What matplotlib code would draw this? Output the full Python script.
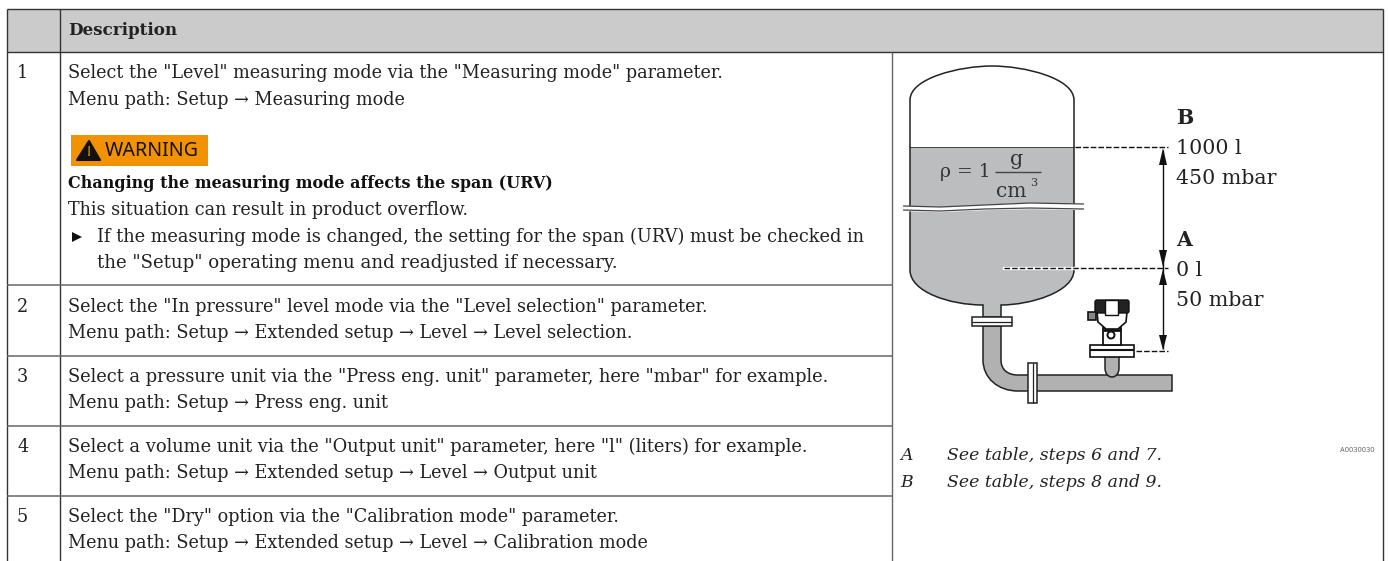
import matplotlib
matplotlib.use('Agg')
import matplotlib.pyplot as plt
from matplotlib.patches import Rectangle, Polygon, PathPatch, Circle, FancyBboxPatch
from matplotlib.path import Path

header = 'Description'
row_numbers = ['1', '2', '3', '4', '5']
row_number_y = [73, 307, 377, 447, 517]
row_lines = [
    (73, 'Select the "Level" measuring mode via the "Measuring mode" parameter.'),
    (100, 'Menu path: Setup \u2192 Measuring mode'),
    (210, 'This situation can result in product overflow.'),
    (307, 'Select the "In pressure" level mode via the "Level selection" parameter.'),
    (333, 'Menu path: Setup \u2192 Extended setup \u2192 Level \u2192 Level selection.'),
    (377, 'Select a pressure unit via the "Press eng. unit" parameter, here "mbar" for example.'),
    (403, 'Menu path: Setup \u2192 Press eng. unit'),
    (447, 'Select a volume unit via the "Output unit" parameter, here "l" (liters) for example.'),
    (473, 'Menu path: Setup \u2192 Extended setup \u2192 Level \u2192 Output unit'),
    (517, 'Select the "Dry" option via the "Calibration mode" parameter.'),
    (543, 'Menu path: Setup \u2192 Extended setup \u2192 Level \u2192 Calibration mode'),
]
warning_title = 'Changing the measuring mode affects the span (URV)'
bullet_lines = ['If the measuring mode is changed, the setting for the span (URV) must be checked in',
                'the "Setup" operating menu and readjusted if necessary.']
callouts = [(118, 'B', True), (148, '1000 l', False), (178, '450 mbar', False),
            (240, 'A', True), (270, '0 l', False), (300, '50 mbar', False)]
legend_rows = [(455, 'A', 'See table, steps 6 and 7.'), (482, 'B', 'See table, steps 8 and 9.')]
figure_code = 'A0030030'

line_col = '#333333'
serif = 'DejaVu Serif'
fs = 12.7

fig = plt.figure(figsize=(13.89, 5.61), dpi=100)
ax = fig.add_axes([0, 0, 1, 1])
ax.set_xlim(0, 1389)
ax.set_ylim(561, 0)
ax.axis('off')


def line(xs, ys, lw=1.0, col=line_col, z=3, **kw):
    ax.plot(xs, ys, color=col, lw=lw, zorder=z, solid_capstyle='butt', **kw)


def txt(x, y, s, size=fs, **kw):
    kw.setdefault('family', serif)
    kw.setdefault('color', '#222222')
    ax.text(x, y, s, fontsize=size, va='center', ha=kw.pop('ha', 'left'), **kw)


def shape(verts, codes, fc, z=2, lw=1.1, ec='#222222'):
    ax.add_patch(PathPatch(Path(verts, codes), fc=fc, ec=ec, lw=lw, zorder=z))


M, L, C, Z = Path.MOVETO, Path.LINETO, Path.CURVE4, Path.CLOSEPOLY

# table
ax.add_patch(Rectangle((7, 9), 1376, 43, fc='#cbcbcb', ec='none', zorder=1))
line([7, 1383], [9, 9])
line([7, 1383], [52, 52])
line([7, 7], [9, 561])
line([60, 60], [9, 561])
line([892, 892], [52, 561], col='#666666')
line([1383, 1383], [9, 561])
for y in [285, 356, 426, 496]:
    line([7, 892], [y, y], lw=1.1, col='#666666')

txt(68, 30, header, size=12.1, weight='bold')
for n, y in zip(row_numbers, row_number_y):
    txt(17, y, n)
for y, s in row_lines:
    # the lines with long quoted words run a bit wider in the original
    txt(68, y, s, size=12.9 if y in (377, 447) else fs)

# warning box
ax.add_patch(Rectangle((71, 135), 137, 31, fc='#f39200', ec='none', zorder=2))
ax.add_patch(Polygon([(77, 160), (100, 160), (89, 141)], fc='#111111', ec='#111111', lw=1.5, joinstyle='round', zorder=3))
txt(88.5, 152, '!', size=11, color='#f39200', weight='bold', ha='center', family='Noto Sans', zorder=4)
txt(105, 151, 'WARNING', size=14.2, family='Noto Sans', color='#111111')
txt(68, 183, warning_title, size=11.5, weight='bold', color='#111111')
ax.add_patch(Polygon([(72, 232), (72, 242), (82, 237)], fc='#111111', ec='none', zorder=3))
for y, s, size in zip([237, 263], bullet_lines, [12.8, 13.1]):
    txt(97, y, s, size=size)

# tank, liquid part
shape([(910, 147), (1074, 147), (1074, 270), (1074, 292), (1030, 305), (1001, 305),
       (1001, 317), (983, 317), (983, 305), (950, 305), (910, 292), (910, 270), (910, 147), (910, 147)],
      [M, L, L, C, C, C, L, L, L, C, C, C, L, Z], '#bcbdbf')
# tank, dome
shape([(910, 147), (910, 100), (910, 78), (960, 66), (992, 66), (1024, 66), (1074, 78), (1074, 100), (1074, 147)],
      [M, L, C, C, C, C, C, C, L], 'white')
# break in the wall
brk_x = [903, 940, 985, 1030, 1084]
ax.fill_between(brk_x, [206, 207, 205, 203, 204], [210, 211, 209, 208, 209], color='white', zorder=4)
line(brk_x, [206, 207, 205, 203, 204], lw=0.9, col='#444444', z=5)
line(brk_x, [210, 211, 209, 208, 209], lw=0.9, col='#444444', z=5)

# pipe
shape([(983, 326), (1001, 326), (1001, 360), (1001, 370), (1008, 375), (1018, 375), (1172, 375), (1172, 391),
       (1018, 391), (998, 391), (983, 378), (983, 360), (983, 326)],
      [M, L, L, C, C, C, L, L, L, C, C, C, Z], '#b1b1b1')
ax.add_patch(Rectangle((972, 317), 40, 9, fc='white', ec='#222222', lw=1.1, zorder=3))
line([972, 1012], [321.5, 321.5], lw=0.9, col='#222222', z=4)
ax.add_patch(Rectangle((1028, 363), 9, 40, fc='white', ec='#222222', lw=1.1, zorder=3))
line([1032.5, 1032.5], [363, 403], lw=0.9, col='#222222', z=4)

# transmitter
shape([(1105, 356), (1119, 356), (1119, 368), (1119, 380), (1105, 380), (1105, 368), (1105, 356)],
      [M, L, L, C, C, C, Z], '#b1b1b1')
ax.add_patch(Rectangle((1090, 345), 44, 12, fc='white', ec='#111111', lw=1.2, zorder=3))
line([1090, 1134], [350, 350], lw=1.5, col='#111111', z=4)
ax.add_patch(Rectangle((1103, 328), 18, 17, fc='white', ec='#111111', lw=1.3, zorder=3))
ax.add_patch(Circle((1111, 335), 3.5, fc='white', ec='#111111', lw=1.4, zorder=4))
line([1103, 1121], [330, 330], lw=2, col='#111111', z=4)
ax.add_patch(Polygon([(1097, 312), (1127, 312), (1126, 322), (1118, 329), (1106, 329), (1098, 322)],
                     fc='white', ec='#111111', lw=1.2, zorder=3))
ax.add_patch(FancyBboxPatch((1097, 302), 30, 9, boxstyle='round,pad=2', fc='#222222', ec='#111111', lw=1, zorder=4))
ax.add_patch(Rectangle((1105, 300), 13, 15, fc='white', ec='#111111', lw=1, zorder=5))
ax.add_patch(Rectangle((1088, 312), 8, 8, fc='#888888', ec='#111111', lw=1.2, zorder=4))

# dashed levels and arrows
dash = dict(linestyle=(0, (4, 1.5)))
ax.plot([1075, 1168], [147, 147], color='#111111', lw=1, zorder=5, **dash)
ax.plot([1004, 1168], [268, 268], color='white', lw=2.4, zorder=5)
ax.plot([1004, 1168], [268, 268], color='#111111', lw=1, zorder=6, **dash)
ax.plot([1136, 1168], [351, 351], color='#111111', lw=1, zorder=5, **dash)
line([1163, 1163], [150, 349], lw=1, col='#111111', z=5)
for tip, base in [(148, 165), (267, 250), (269, 285), (350, 335)]:
    ax.add_patch(Polygon([(1163, tip), (1159, base), (1167, base)], fc='#111111', ec='none', zorder=6))

# density formula
txt(940, 172, '\u03C1 = 1', size=13.5, color='#333333')
txt(1017, 159, 'g', size=15, color='#333333', ha='center')
line([995, 1041], [172, 172], lw=1, col='#444444')
txt(1011, 191, 'cm', size=14.5, color='#333333', ha='center')
txt(1030, 183, '3', size=8, color='#333333')

for y, s, bold in callouts:
    txt(1176, y, s, size=14.8, weight='bold' if bold else 'normal')

txt(1375, 450, figure_code, size=5.3, family='Noto Sans', color='#666666', ha='right')
for y, a, s in legend_rows:
    txt(900, y, a, size=12.4, style='italic')
    txt(947, y, s, size=12.4, style='italic')

fig.savefig('out.png', dpi=100)
